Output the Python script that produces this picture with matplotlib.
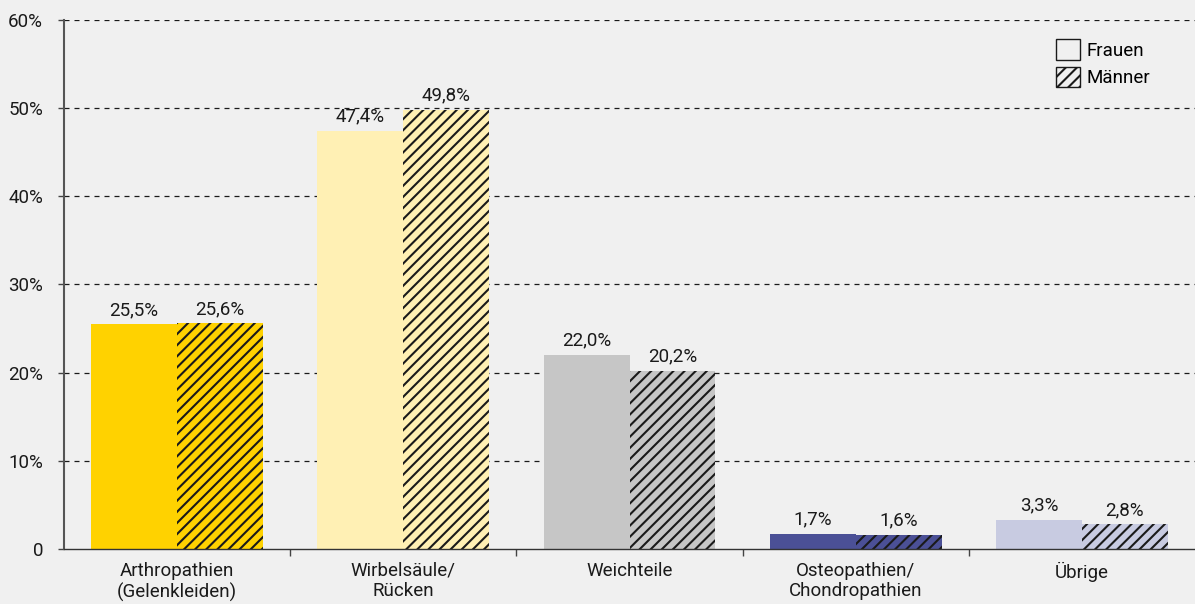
import numpy as np
import matplotlib.pyplot as plt
import matplotlib as mpl

plt.rcParams['font.family'] = ['Roboto', 'DejaVu Sans']
plt.rcParams['hatch.linewidth'] = 1.5

# --- data ---
categories = ["Arthropathien\n(Gelenkleiden)", "Wirbelsäule/\nRücken", "Weichteile",
              "Osteopathien/\nChondropathien", "Übrige"]
frauen = [25.5, 47.4, 22.0, 1.7, 3.3]
maenner = [25.6, 49.8, 20.2, 1.6, 2.8]
colors = ["#FFD200", "#FFF0B4", "#C6C6C6", "#4B5096", "#C8CBE1"]
y_ticks = [0, 10, 20, 30, 40, 50, 60]
y_ticklabels = ["0", "10%", "20%", "30%", "40%", "50%", "60%"]

bg = "#F0F0F0"
ink = "#1a1a1a"
fs = 13.5

fig = plt.figure(figsize=(11.95, 6.04), dpi=100, facecolor=bg)
ax = fig.add_axes([0.0536, 0.091, 0.9464, 0.876], facecolor=bg)

x = np.arange(len(categories))
w = 0.38

for i in x:
    ax.bar(i - w / 2, frauen[i], w, color=colors[i], linewidth=0, zorder=2)
    ax.bar(i + w / 2, maenner[i], w, color=colors[i], edgecolor=ink,
           hatch="///", linewidth=0, zorder=2)
    ax.text(i - w / 2, frauen[i] + 0.6, f"{frauen[i]:.1f}%".replace(".", ","),
            ha="center", va="bottom", fontsize=fs, color=ink, zorder=3)
    ax.text(i + w / 2, maenner[i] + 0.6, f"{maenner[i]:.1f}%".replace(".", ","),
            ha="center", va="bottom", fontsize=fs, color=ink, zorder=3)

ax.set_xlim(-0.5, len(categories) - 0.5)
ax.set_ylim(0, 60)
ax.set_yticks(y_ticks)
ax.set_yticklabels(y_ticklabels, fontsize=fs, color=ink)

# dashed grid lines
for t in y_ticks[1:]:
    ax.axhline(t, color=ink, linestyle=(0, (4, 4)), linewidth=0.9, zorder=1)

# category boundaries as ticks on x axis
ax.set_xticks(np.arange(0.5, len(categories) - 1, 1.0))
ax.set_xticklabels([])
ax.set_xticks(x, minor=True)
ax.set_xticklabels(categories, minor=True, fontsize=fs, color=ink)
ax.tick_params(axis="x", which="minor", length=0, pad=9)
ax.tick_params(axis="x", which="major", length=5, width=1, color="#444444", direction="out")
ax.tick_params(axis="y", length=4, width=1, color="#444444", pad=11)

for s in ["top", "right"]:
    ax.spines[s].set_visible(False)
ax.spines["left"].set_color("#555555")
ax.spines["left"].set_linewidth(1.5)
ax.spines["bottom"].set_color("#333333")
ax.spines["bottom"].set_linewidth(1.0)

# legend
handles = [mpl.patches.Patch(facecolor="none", edgecolor=ink, label="Frauen"),
           mpl.patches.Patch(facecolor="none", edgecolor=ink, hatch="///", label="Männer")]
ax.legend(handles=handles, loc="upper right", bbox_to_anchor=(0.975, 0.995), frameon=False,
          fontsize=fs, handlelength=1.3, handleheight=1.3, handletextpad=0.3, labelspacing=0.35)

fig.savefig("out.png", dpi=100, facecolor=bg)
